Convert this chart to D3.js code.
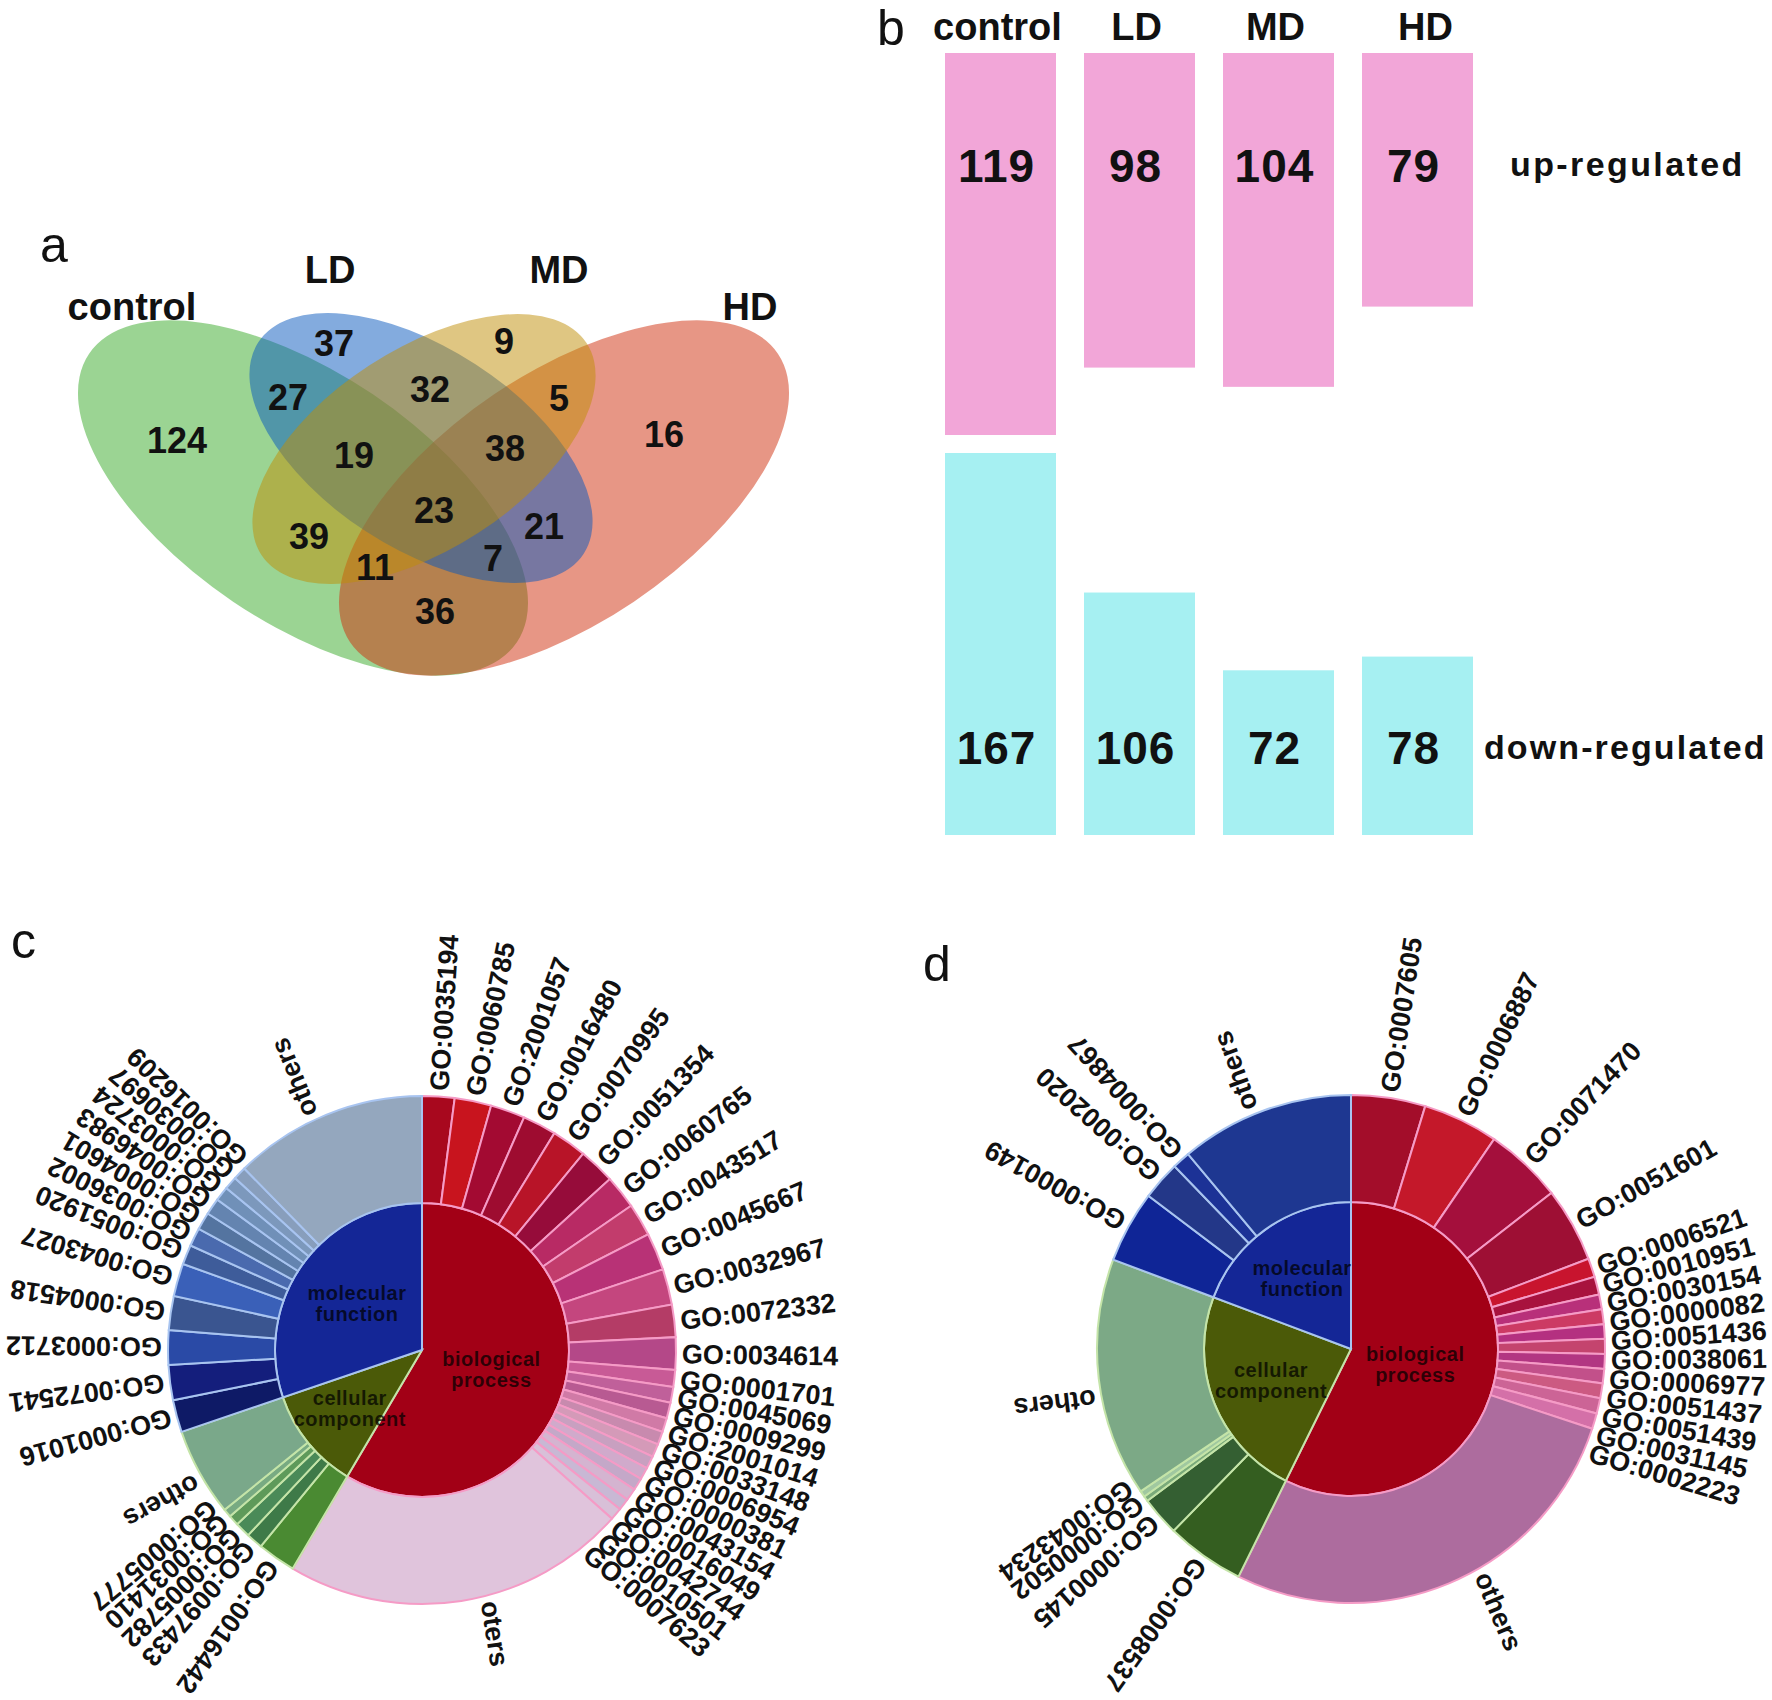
<!DOCTYPE html>
<html><head><meta charset="utf-8">
<script src="https://cdn.jsdelivr.net/npm/d3@7"></script>
<style>
html,body{margin:0;padding:0;background:#fff;}
svg{display:block;font-family:"Liberation Sans", Arial, sans-serif;}
</style></head><body>
<svg id="chart" width="1772" height="1700"></svg>
<script>
// ================= DATA =================
// Panel a: 4-set Venn
const vennSetNames = ["control", "LD", "MD", "HD"];
const vennRegions = ["control", "LD", "MD", "HD", "control&LD", "LD&MD", "MD&HD", "control&MD", "LD&HD", "control&HD",
  "control&LD&MD", "LD&MD&HD", "control&MD&HD", "control&LD&HD", "control&LD&MD&HD"];
const vennCounts = [124, 37, 9, 16, 27, 32, 5, 39, 21, 36, 19, 38, 11, 7, 23];

// Panel b: DEG counts
const barGroups = ["control", "LD", "MD", "HD"];
const upRegulated = [119, 98, 104, 79];
const downRegulated = [167, 106, 72, 78];

// Panel c: GO sunburst (values = share of the circle)
const cBPTerms = ["GO:0035194","GO:0060785","GO:2001057","GO:0016480","GO:0070995","GO:0051354","GO:0060765","GO:0043517","GO:0045667","GO:0032967","GO:0072332","GO:0034614","GO:0001701","GO:0045069","GO:0009299","GO:2001014","GO:0033148","GO:0006954","GO:0000381","GO:0043154","GO:0016049","GO:0042744","GO:0010501","GO:0007623","oters"];
const cBPValues = [7.4,8.4,7.9,7.7,8.0,8.3,7.7,7.5,8.6,8.2,7.4,7.4,3.9,3.6,3.6,3.2,3.0,3.0,2.9,2.8,2.8,2.8,2.7,2.8,79.0];
const cCCTerms = ["GO:0016442","GO:0097433","GO:0005782","GO:0031410","GO:0005777","others"];
const cCCValues = [8.8,3.8,3.5,2.4,1.9,20.2];
const cMFTerms = ["GO:0001016","GO:0072541","GO:0003712","GO:0004518","GO:0043027","GO:0051920","GO:0036002","GO:0004601","GO:0046983","GO:0003724","GO:0030697","GO:0016209","others"];
const cMFValues = [7.4,8.0,7.9,7.8,7.5,4.5,4.2,4.0,3.8,3.3,3.0,3.0,44.4];

// Panel d: GO sunburst
const dBPTerms = ["GO:0007605","GO:0006887","GO:0071470","GO:0051601","GO:0006521","GO:0010951","GO:0030154","GO:0000082","GO:0051436","GO:0038061","GO:0006977","GO:0051437","GO:0051439","GO:0031145","GO:0002223","others"];
const dBPValues = [17.0,17.3,17.8,17.1,4.3,4.1,3.4,3.4,3.3,3.4,3.4,3.3,3.4,3.5,3.6,98.0];
const dCCTerms = ["GO:0008537","GO:0000145","GO:0000502","GO:0043234","others"];
const dCCValues = [18.0,9.0,1.2,1.4,54.7];
const dMFTerms = ["GO:0000149","GO:0002020","GO:0004867","others"];
const dMFValues = [16.5,8.9,4.1,39.9];

const categoryNames = ["biological process", "cellular component", "molecular function"];

// ================= STYLES =================
const vennColors = {control: "rgb(55,170,40)", HD: "rgb(208,45,12)", LD: "rgb(8,88,190)", MD: "rgb(192,142,5)"};
const vennDrawOrder = ["control", "HD", "LD", "MD"];
const upColor = "#f2a6d8", downColor = "#a6f0f2";
const innerColors = ["#a20016", "#4b5a08", "#142696"];
const strokeColors = ["#f59bc6", "#c4e4a8", "#a8c4f0"];
const cBPColors = ["#a8081e","#c8141e","#a30a32","#9e0c30","#b81428","#960c3a","#b82a64","#c23c6c","#b83276","#c4467e","#b43c66","#b44888","#c85a96","#c0609a","#b85a92","#d07aa6","#c88aae","#d49ab8","#c8a0c0","#d0aacb","#c4a8c8","#d4b4d0","#c8b8d4","#d8c0d8","#e0c4dc"];
const cCCColors = ["#4a8a32","#3e7a48","#4a8a58","#5e9a5a","#78aa82","#7aa88a"];
const cMFColors = ["#0e1a66","#141e7c","#2a4aa6","#3a5590","#3a60b8","#3e5c9a","#4a6aae","#5474a0","#6484b0","#7090b8","#7c98bc","#889ebc","#94a7be"];
const dBPColors = ["#a30d2a","#c4182a","#a40f3c","#9e0f34","#c8142e","#a8123e","#b8307a","#cc3a64","#b43080","#c4446e","#b23682","#c2508a","#cc5a82","#cc6496","#d470a8","#ad6c9e"];
const dCCColors = ["#345e20","#345f32","#7aaa7a","#a0c8a0","#7ca986"];
const dMFColors = ["#0f2596","#233788","#1c3296","#1e3791"];

// ================= LAYOUT =================
const svg = d3.select("#chart");

// panel letters
const panelLetters = [["a", 40, 262], ["b", 877, 45], ["c", 11, 958], ["d", 923, 981]];
svg.selectAll("text.panel").data(panelLetters).join("text")
  .attr("class", "panel").attr("x", d => d[1]).attr("y", d => d[2])
  .attr("font-size", 50).attr("fill", "#111").text(d => d[0]);

// ---------- Panel a : Venn ----------
const vennEllipses = {
  control: {cx: 303, cy: 498, rx: 258, ry: 125, rot: 34},
  HD:      {cx: 564, cy: 498, rx: 258, ry: 125, rot: -34},
  LD:      {cx: 421, cy: 448, rx: 194, ry: 100, rot: 33},
  MD:      {cx: 424, cy: 449, rx: 194, ry: 100, rot: -33}
};
const vennLabelPos = {
  "control": [177, 440], "LD": [334, 343], "MD": [504, 341], "HD": [664, 434],
  "control&LD": [288, 397], "LD&MD": [430, 389], "MD&HD": [559, 398], "control&MD": [309, 536],
  "LD&HD": [544, 526], "control&HD": [435, 611], "control&LD&MD": [354, 455], "LD&MD&HD": [505, 448],
  "control&MD&HD": [375, 567], "control&LD&HD": [493, 558], "control&LD&MD&HD": [434, 510]
};
const vennSetLabelPos = {control: [132, 306], LD: [330, 269], MD: [559, 269], HD: [750, 306]};

const gA = svg.append("g");
gA.selectAll("ellipse").data(vennDrawOrder).join("ellipse")
  .attr("cx", d => vennEllipses[d].cx).attr("cy", d => vennEllipses[d].cy)
  .attr("rx", d => vennEllipses[d].rx).attr("ry", d => vennEllipses[d].ry)
  .attr("transform", d => `rotate(${vennEllipses[d].rot},${vennEllipses[d].cx},${vennEllipses[d].cy})`)
  .attr("fill", d => vennColors[d]).attr("fill-opacity", 0.5);
gA.selectAll("text.cnt").data(vennRegions).join("text").attr("class", "cnt")
  .attr("x", d => vennLabelPos[d][0]).attr("y", d => vennLabelPos[d][1])
  .attr("text-anchor", "middle").attr("dy", "0.36em")
  .attr("font-size", 36).attr("font-weight", "bold").attr("fill", "#111")
  .text((d, i) => vennCounts[i]);
gA.selectAll("text.set").data(vennSetNames).join("text").attr("class", "set")
  .attr("x", d => vennSetLabelPos[d][0]).attr("y", d => vennSetLabelPos[d][1])
  .attr("text-anchor", "middle").attr("dy", "0.36em")
  .attr("font-size", 38).attr("font-weight", "bold").attr("fill", "#111")
  .text(d => d);

// ---------- Panel b : bars ----------
const gB = svg.append("g");
const xB = d3.scaleBand().domain(barGroups).range([945, 1473]).paddingInner(0.2014).paddingOuter(0);
const yUp = d3.scaleLinear().domain([0, d3.max(upRegulated)]).range([53, 435]);
const yDown = d3.scaleLinear().domain([0, d3.max(downRegulated)]).range([835, 453]);
gB.selectAll("rect.up").data(barGroups).join("rect").attr("class", "up")
  .attr("x", d => xB(d)).attr("width", xB.bandwidth())
  .attr("y", yUp(0)).attr("height", (d, i) => yUp(upRegulated[i]) - yUp(0))
  .attr("fill", upColor);
gB.selectAll("rect.down").data(barGroups).join("rect").attr("class", "down")
  .attr("x", d => xB(d)).attr("width", xB.bandwidth())
  .attr("y", (d, i) => yDown(downRegulated[i])).attr("height", (d, i) => yDown(0) - yDown(downRegulated[i]))
  .attr("fill", downColor);
gB.selectAll("text.hdr").data(barGroups).join("text").attr("class", "hdr")
  .attr("x", d => xB(d) + xB.bandwidth() / 2 + (d === "HD" ? 8 : -3)).attr("y", 40)
  .attr("text-anchor", "middle").attr("font-size", 38).attr("font-weight", "bold").attr("fill", "#111")
  .text(d => d);
gB.selectAll("text.uv").data(barGroups).join("text").attr("class", "uv")
  .attr("x", d => xB(d) + xB.bandwidth() / 2 - 4).attr("y", 165).attr("dy", "0.36em")
  .attr("text-anchor", "middle").attr("font-size", 46).attr("font-weight", "bold").attr("fill", "#111")
  .attr("letter-spacing", 1)
  .text((d, i) => upRegulated[i]);
gB.selectAll("text.dv").data(barGroups).join("text").attr("class", "dv")
  .attr("x", d => xB(d) + xB.bandwidth() / 2 - 4).attr("y", 747).attr("dy", "0.36em")
  .attr("text-anchor", "middle").attr("font-size", 46).attr("font-weight", "bold").attr("fill", "#111")
  .attr("letter-spacing", 1)
  .text((d, i) => downRegulated[i]);
gB.append("text").attr("x", 1510).attr("y", 164).attr("dy", "0.36em")
  .attr("font-size", 34).attr("font-weight", "bold").attr("letter-spacing", 2.4).attr("fill", "#111")
  .text("up-regulated");
gB.append("text").attr("x", 1484).attr("y", 747).attr("dy", "0.36em")
  .attr("font-size", 34).attr("font-weight", "bold").attr("letter-spacing", 2.1).attr("fill", "#111")
  .text("down-regulated");

// ---------- Panels c, d : sunbursts ----------
function sunburst(cfg) {
  const R1 = 147, R2 = 254, RL = R2 + 6;
  const g = svg.append("g").attr("transform", `translate(${cfg.cx},${cfg.cy})`);
  const data = {name: "root", children: cfg.groups.map((gr, gi) => ({
    name: categoryNames[gi], gi: gi,
    children: gr.terms.map((t, i) => ({name: t, value: gr.values[i], color: gr.colors[i], gi: gi}))
  }))};
  const root = d3.hierarchy(data).sum(d => d.value || 0);
  d3.partition().size([2 * Math.PI, 3])(root);
  const rScale = d3.scaleLinear().domain([1, 2, 3]).range([0, R1, R2]);
  const arc = d3.arc().startAngle(d => d.x0).endAngle(d => d.x1)
    .innerRadius(d => rScale(d.y0)).outerRadius(d => rScale(d.y1));
  const nodes = root.descendants().filter(d => d.depth > 0);
  g.selectAll("path").data(nodes).join("path")
    .attr("d", arc)
    .attr("fill", d => d.depth === 1 ? innerColors[d.data.gi] : d.data.color)
    .attr("stroke", d => strokeColors[d.data.gi]).attr("stroke-width", 2);

  // inner labels
  root.children.forEach(d => {
    const a = (d.x0 + d.x1) / 2, rr = cfg.innerR[d.data.gi];
    const px = rr * Math.sin(a), py = -rr * Math.cos(a);
    const words = d.data.name.split(" ");
    const t = g.append("text").attr("text-anchor", "middle")
      .attr("font-size", 20).attr("font-weight", "bold").attr("fill", "#000").attr("fill-opacity", 0.72)
      .attr("letter-spacing", 0.5);
    words.forEach((w, k) => t.append("tspan").attr("x", px).attr("y", py + (k - 0.5) * 21).attr("dy", "0.36em").text(w));
  });

  // outer labels: rotated to the slice's mid angle, positions spread to a minimum angular gap
  const leaves = root.leaves();
  const deg = 180 / Math.PI;
  const rot = leaves.map(d => (d.x0 + d.x1) / 2 * deg);
  const pos = leaves.map(d => (d.x0 + (/^o/.test(d.data.name) ? 0.42 : 0.5) * (d.x1 - d.x0)) * deg);
  for (let i = 1; i < pos.length; i++) if (pos[i] - pos[i - 1] < cfg.minSep) pos[i] = pos[i - 1] + cfg.minSep;
  g.selectAll("text.lab").data(leaves).join("text").attr("class", "lab")
    .attr("transform", (d, i) => `translate(${RL * Math.sin(pos[i] / deg)},${-RL * Math.cos(pos[i] / deg)}) rotate(${rot[i] - 90})`)
    .attr("dy", "0.36em").attr("font-size", 27).attr("font-weight", "bold").attr("fill", "#111")
    .text(d => d.data.name);
}

sunburst({cx: 422, cy: 1350, minSep: 4.0, innerR: [72, 93, 80],
  groups: [{terms: cBPTerms, values: cBPValues, colors: cBPColors},
           {terms: cCCTerms, values: cCCValues, colors: cCCColors},
           {terms: cMFTerms, values: cMFValues, colors: cMFColors}]});
sunburst({cx: 1351, cy: 1349, minSep: 4.2, innerR: [66, 86, 86],
  groups: [{terms: dBPTerms, values: dBPValues, colors: dBPColors},
           {terms: dCCTerms, values: dCCValues, colors: dCCColors},
           {terms: dMFTerms, values: dMFValues, colors: dMFColors}]});
</script>
</body></html>
